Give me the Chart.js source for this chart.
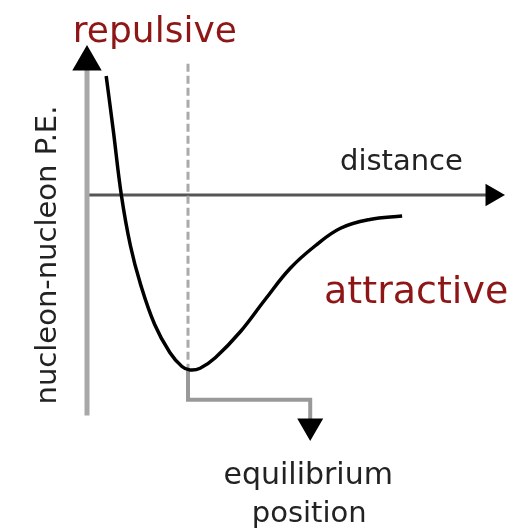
<!DOCTYPE html>
<html>
<head>
<meta charset="utf-8">
<script src="https://cdn.jsdelivr.net/npm/chart.js@4/dist/chart.umd.min.js"></script>
<style>
  html, body { margin: 0; padding: 0; background: #fff; }
  #wrap { width: 515px; height: 528px; }
</style>
</head>
<body>
<div id="wrap"><canvas id="pe"></canvas></div>
<script>
// separation (equilibrium = 1) and potential energy (well depth = -1)
const distance = [0.19, 0.26, 0.34, 0.43, 0.53, 0.67, 0.82, 0.94, 1.02, 1.12, 1.27, 1.52, 1.76, 2.01, 2.26, 2.51, 2.80, 3.12];
const energy   = [0.68, 0.37, 0.00, -0.29, -0.51, -0.74, -0.90, -0.98, -1.00, -0.99, -0.93, -0.78, -0.60, -0.42, -0.29, -0.19, -0.14, -0.12];

// equilibrium marker and the pointer to its caption
const eqX = [1.0, 1.0];
const eqY = [0.75, -1.0];
const pointerX = [1.0, 1.0, 2.21, 2.21];
const pointerY = [-1.0, -1.17, -1.17, -1.32];

// axis arrows
const yAxisX = [0, 0];
const yAxisY = [-1.26, 0.76];
const xAxisX = [0, 4.01];
const xAxisY = [0, 0];

// captions
const labels = [
  { text: "repulsive", x: -0.14, y: 0.874, color: "#8e1616", size: 36, align: "left" },
  { text: "distance", x: 2.505, y: 0.143, color: "#222", size: 29, align: "left" },
  { text: "attractive", x: 2.347, y: -0.617, color: "#8e1616", size: 38, align: "left" },
  { text: "equilibrium", x: 2.19, y: -1.651, color: "#222", size: 30, align: "center" },
  { text: "position", x: 2.2, y: -1.869, color: "#222", size: 29, align: "center" }
];
const yTitle = "nucleon-nucleon P.E.";

const pts = (xs, ys) => xs.map((x, i) => ({ x: x, y: ys[i] }));

// only the last point of a line gets the arrowhead
function arrowEnd(n, r) {
  const out = new Array(n).fill(0);
  out[n - 1] = r;
  return out;
}

const textPlugin = {
  id: "captions",
  afterDraw(chart) {
    const ctx = chart.ctx;
    const sx = chart.scales.x, sy = chart.scales.y;
    ctx.save();
    ctx.textBaseline = "alphabetic";
    labels.forEach(l => {
      ctx.font = l.size + "px 'DejaVu Sans'";
      ctx.fillStyle = l.color;
      ctx.textAlign = l.align;
      ctx.fillText(l.text, sx.getPixelForValue(l.x), sy.getPixelForValue(l.y));
    });
    // rotated axis title
    ctx.translate(sx.getPixelForValue(-0.307), sy.getPixelForValue(-0.343));
    ctx.rotate(-Math.PI / 2);
    ctx.font = "29px 'DejaVu Sans'";
    ctx.fillStyle = "#222";
    ctx.textAlign = "center";
    ctx.fillText(yTitle, 0, 0);
    ctx.restore();
  }
};

new Chart(document.getElementById("pe"), {
  type: "line",
  data: {
    datasets: [
      {
        data: pts(distance, energy),
        borderColor: "#000",
        borderWidth: 3.5,
        pointRadius: 0,
        tension: 0.4
      },
      {
        data: pts(eqX, eqY),
        borderColor: "#aaa",
        borderWidth: 3,
        borderDash: [8, 4],
        pointRadius: 0
      },
      {
        data: pts(pointerX, pointerY),
        borderColor: "#999",
        borderWidth: 4,
        pointStyle: "triangle",
        pointRotation: 180,
        pointRadius: arrowEnd(4, 11),
        pointBackgroundColor: "#000",
        pointBorderColor: "#000",
        tension: 0
      },
      {
        data: pts(yAxisX, yAxisY),
        borderColor: "#a8a8a8",
        borderWidth: 5,
        pointStyle: "triangle",
        pointRotation: 0,
        pointRadius: arrowEnd(2, 12),
        pointBackgroundColor: "#000",
        pointBorderColor: "#000"
      },
      {
        data: pts(xAxisX, xAxisY),
        borderColor: "#555",
        borderWidth: 3,
        pointStyle: "triangle",
        pointRotation: 90,
        pointRadius: arrowEnd(2, 10),
        pointBackgroundColor: "#000",
        pointBorderColor: "#000"
      }
    ]
  },
  options: {
    responsive: true,
    maintainAspectRatio: false,
    animation: false,
    layout: { padding: 0, autoPadding: false },
    plugins: {
      legend: { display: false },
      tooltip: { enabled: false }
    },
    scales: {
      x: { type: "linear", min: -0.8614, max: 4.2376, display: false },
      y: { type: "linear", min: -1.9029, max: 1.1143, display: false }
    }
  },
  plugins: [textPlugin]
});
</script>
</body>
</html>
